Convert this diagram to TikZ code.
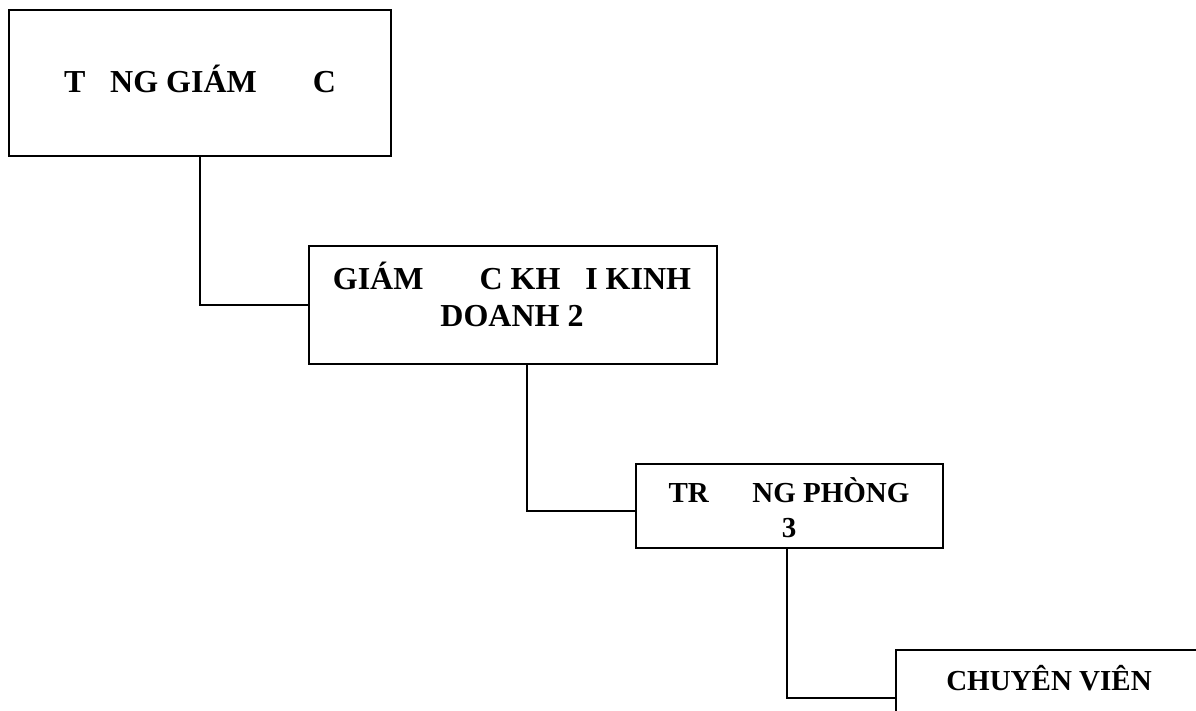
\documentclass[tikz,border=0pt]{standalone}
\usepackage{fontspec}
\setmainfont{Liberation Serif}
\begin{document}
\begin{tikzpicture}[x=0.5pt,y=-0.5pt,
  box/.style={draw, line width=1pt, inner sep=0pt, outer sep=0pt, anchor=north west},
  lbl/.style={font=\fontsize{14.5}{17}\selectfont\bfseries, inner sep=0pt, anchor=base},
  biglbl/.style={lbl, font=\fontsize{16}{19}\selectfont\bfseries},
  link/.style={line width=1pt}]
\useasboundingbox (0,0) rectangle (1196,711);
\clip (0,0) rectangle (1196,711);
% boxes
\node[box, minimum width=191pt, minimum height=73pt] (b1) at (9,10) {};
\node[box, minimum width=204pt, minimum height=59pt] (b2) at (309,246) {};
\node[box, minimum width=153.5pt, minimum height=42pt] (b3) at (636,464) {};
\node[box, minimum width=175pt, minimum height=50pt] (b4) at (896,650) {};
% texts
\node[biglbl] (t1) at (200,93) {T\phantom{O}NG GIÁM \phantom{ĐO}C};
\node[biglbl] (t2a) at (512,290) {GIÁM \phantom{ĐO}C KH\phantom{O}I KINH};
\node[biglbl] (t2b) at (512,327) {DOANH 2};
\node[lbl] (t3a) at (789,503) {TR\phantom{UO}NG PHÒNG};
\node[lbl] (t3b) at (789,538) {3};
\node[lbl] (t4) at (1049,690) {CHUYÊN VIÊN};
% connectors
\coordinate (k1) at (200,305);
\coordinate (k2) at (527,511);
\coordinate (k3) at (787,698);
\draw[link] (b1.south -| k1) -- (k1) -- (k1 -| b2.west);
\draw[link] (b2.south -| k2) -- (k2) -- (k2 -| b3.west);
\draw[link] (b3.south -| k3) -- (k3) -- (k3 -| b4.west);
\end{tikzpicture}
\end{document}
